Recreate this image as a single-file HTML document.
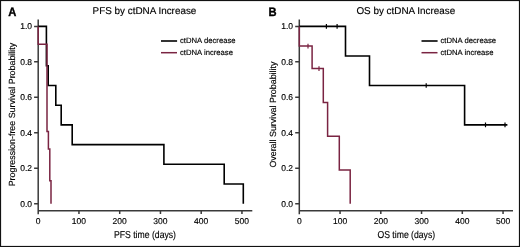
<!DOCTYPE html>
<html><head><meta charset="utf-8"><style>
html,body{margin:0;padding:0;background:#fff;}
svg{display:block;-webkit-font-smoothing:antialiased;will-change:transform;}
text{font-family:"Liberation Sans",sans-serif;fill:#000;stroke:#000;stroke-width:0.15px;text-rendering:geometricPrecision;}
.ax{stroke:#3a3a3a;stroke-width:1.5;fill:none;}
.bk{stroke:#000;stroke-width:1.6;fill:none;}
.rd{stroke:#7a2442;stroke-width:1.5;fill:none;}
.ck{stroke-width:1.2;}
.tk{font-size:8.5px;}
.ti{font-size:9.9px;}
.lt{font-size:12.2px;font-weight:bold;stroke-width:0.35px;}
.xl{font-size:10px;}
.yl{font-size:8.9px;}
.lg{font-size:7.7px;}
</style></head><body>
<svg width="520" height="247" viewBox="0 0 520 247">
<rect x="0" y="0" width="520" height="247" fill="#fff"/>
<path d="M38.2,19.4 V214.2 M37.45,210.85 H252.3" class="ax"/>
<path d="M34.1,203.70 H38.2 M34.1,168.24 H38.2 M34.1,132.78 H38.2 M34.1,97.32 H38.2 M34.1,61.86 H38.2 M34.1,26.40 H38.2 " class="ax"/>
<path d="M78.95,210.85 V213.9 M119.70,210.85 V213.9 M160.45,210.85 V213.9 M201.20,210.85 V213.9 M241.95,210.85 V213.9 " class="ax"/>
<text x="32.0" y="206.60" class="tk" text-anchor="end">0.0</text>
<text x="32.0" y="171.14" class="tk" text-anchor="end">0.2</text>
<text x="32.0" y="135.68" class="tk" text-anchor="end">0.4</text>
<text x="32.0" y="100.22" class="tk" text-anchor="end">0.6</text>
<text x="32.0" y="64.76" class="tk" text-anchor="end">0.8</text>
<text x="32.0" y="29.30" class="tk" text-anchor="end">1.0</text>
<text x="38.20" y="224.1" class="tk" text-anchor="middle">0</text>
<text x="78.95" y="224.1" class="tk" text-anchor="middle">100</text>
<text x="119.70" y="224.1" class="tk" text-anchor="middle">200</text>
<text x="160.45" y="224.1" class="tk" text-anchor="middle">300</text>
<text x="201.20" y="224.1" class="tk" text-anchor="middle">400</text>
<text x="241.95" y="224.1" class="tk" text-anchor="middle">500</text>
<text x="92.6" y="13.9" class="ti">PFS by ctDNA Increase</text>
<text transform="translate(8.2,15.5) scale(0.92,1)" class="lt">A</text>
<text transform="translate(145,237.6) scale(0.865,1)" class="xl" text-anchor="middle">PFS time (days)</text>
<text transform="translate(14.5,114.6) rotate(-90)" class="yl" text-anchor="middle">Progression-free Survival Probability</text>
<path d="M161,41.0 H177.1" class="bk"/>
<path d="M161,52.7 H177" class="rd"/>
<text x="180" y="43.4" class="lg">ctDNA decrease</text>
<text x="180" y="54.7" class="lg">ctDNA increase</text>
<path d="M299.3,19.4 V214.2 M298.55,210.85 H513" class="ax"/>
<path d="M295.2,203.70 H299.3 M295.2,168.24 H299.3 M295.2,132.78 H299.3 M295.2,97.32 H299.3 M295.2,61.86 H299.3 M295.2,26.40 H299.3 " class="ax"/>
<path d="M340.05,210.85 V213.9 M380.80,210.85 V213.9 M421.55,210.85 V213.9 M462.30,210.85 V213.9 M503.05,210.85 V213.9 " class="ax"/>
<text x="293.1" y="206.60" class="tk" text-anchor="end">0.0</text>
<text x="293.1" y="171.14" class="tk" text-anchor="end">0.2</text>
<text x="293.1" y="135.68" class="tk" text-anchor="end">0.4</text>
<text x="293.1" y="100.22" class="tk" text-anchor="end">0.6</text>
<text x="293.1" y="64.76" class="tk" text-anchor="end">0.8</text>
<text x="293.1" y="29.30" class="tk" text-anchor="end">1.0</text>
<text x="299.30" y="224.1" class="tk" text-anchor="middle">0</text>
<text x="340.05" y="224.1" class="tk" text-anchor="middle">100</text>
<text x="380.80" y="224.1" class="tk" text-anchor="middle">200</text>
<text x="421.55" y="224.1" class="tk" text-anchor="middle">300</text>
<text x="462.30" y="224.1" class="tk" text-anchor="middle">400</text>
<text x="503.05" y="224.1" class="tk" text-anchor="middle">500</text>
<text x="356.4" y="13.9" class="ti">OS by ctDNA Increase</text>
<text transform="translate(268.4,15.5) scale(0.92,1)" class="lt">B</text>
<text transform="translate(406.3,237.6) scale(0.865,1)" class="xl" text-anchor="middle">OS time (days)</text>
<text transform="translate(275.6,114.6) rotate(-90)" class="yl" text-anchor="middle">Overall Survival Probability</text>
<path d="M421.5,41.0 H437.6" class="bk"/>
<path d="M421.5,52.7 H437.5" class="rd"/>
<text x="440.5" y="43.4" class="lg">ctDNA decrease</text>
<text x="440.5" y="54.7" class="lg">ctDNA increase</text>

<path class="bk" d="M38.2,26.40 H46.4 V65.80 H48.2 V85.50 H55.8 V105.20 H61.2 V124.90 H72.2 V144.60 H163.9 V164.30 H224.2 V184.00 H243.3 V203.70"/>
<path class="rd" d="M38.2,26.40 V44.13 H47.0 V131.6 H48.4 V149 H49.8 V180.7 H51 V203.70"/>
<path class="bk" d="M299.3,26.40 H345.5 V55.95 H369.5 V85.50 H464.6 V124.90 H507.4"/>
<path class="bk ck" d="M326.4,24.10 V28.70 M337.1,24.10 V28.70 M426.2,83.20 V87.80 M485.5,122.60 V127.20 M505,122.60 V127.20 "/>
<path class="rd" d="M299.3,26.40 V46.10 H312.1 V68.60 H323.3 V102.46 H327.6 V136.15 H339.3 V170.01 H350.2 V203.70"/>
<path class="rd ck" d="M308,43.80 V48.40 M319,66.30 V70.90 "/>

<rect x="0.5" y="0.5" width="519" height="246" fill="none" stroke="#111" stroke-width="1.2"/>
</svg>
</body></html>
